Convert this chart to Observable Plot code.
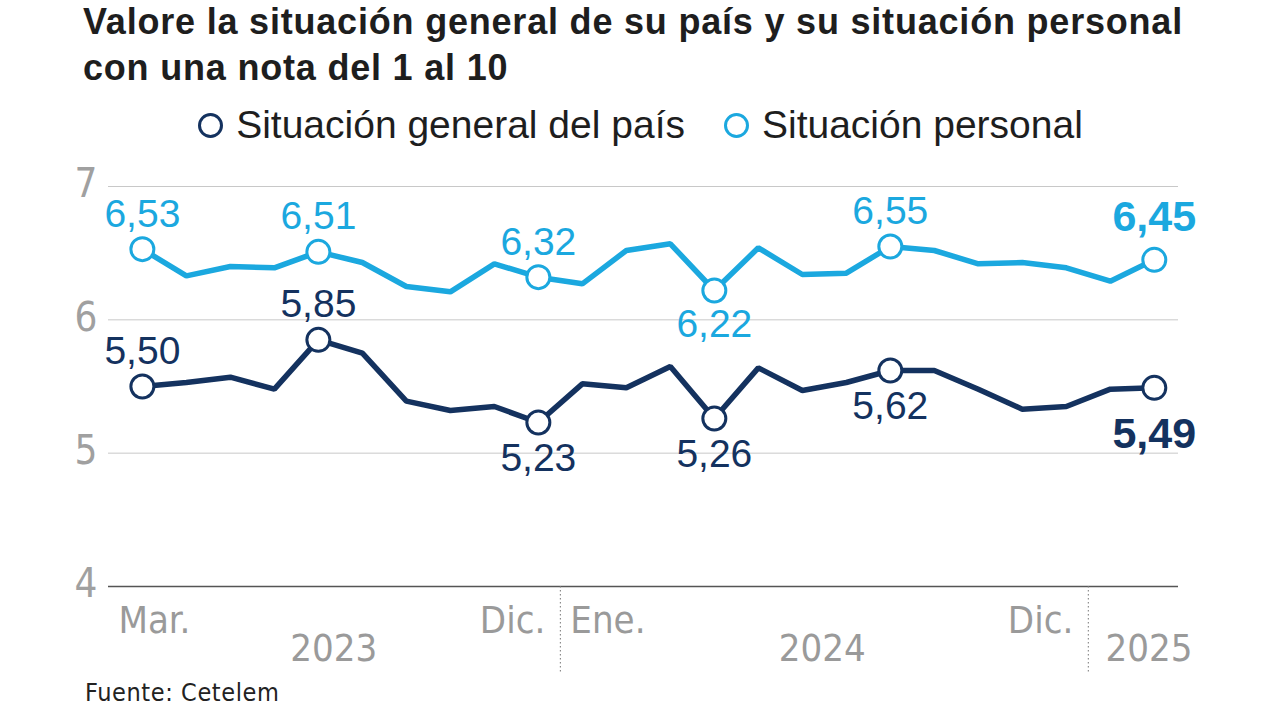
<!DOCTYPE html>
<html>
<head>
<meta charset="utf-8">
<script src="https://cdn.jsdelivr.net/npm/d3@7"></script>
<script src="https://cdn.jsdelivr.net/npm/@observablehq/plot@0.6"></script>
<style>
  html, body { margin: 0; padding: 0; background: #fff; }
  #wrap { position: relative; width: 1280px; height: 720px; overflow: hidden; font-family: "Liberation Sans", Arial, sans-serif; }
  #title { position: absolute; left: 83px; top: -1px; margin: 0; font-size: 36px; line-height: 46px; font-weight: 700; color: #1e1e1e; white-space: nowrap; letter-spacing: 0.8px; }
  #legend { position: absolute; left: 0; width: 1280px; top: 103px; height: 44px; display: flex; justify-content: center; align-items: center; gap: 38px; font-size: 39px; color: #1e1e1e; padding-left: 0px; box-sizing: border-box; }
  .sw { display: inline-flex; align-items: center; gap: 12px; }
  .sw svg { display: block; }
  #chart { position: absolute; left: 0; top: 150px; }
  #caption { position: absolute; left: 85px; top: 678px; font-size: 25px; letter-spacing: 0.6px; color: #222; font-family: 'Liberation Sans Narrow', 'DejaVu Sans Condensed', 'Roboto Condensed', Roboto, sans-serif; }
</style>
</head>
<body>
<div id="wrap">
  <h1 id="title">Valore la situación general de su país y su situación personal<br>con una nota del 1 al 10</h1>
  <div id="legend"></div>
  <div id="chart"></div>
  <div id="caption">Fuente: Cetelem</div>
</div>
<script>
// ---- Data ----
const months = ["2023-03","2023-04","2023-05","2023-06","2023-07","2023-08","2023-09","2023-10","2023-11","2023-12",
                "2024-01","2024-02","2024-03","2024-04","2024-05","2024-06","2024-07","2024-08","2024-09","2024-10","2024-11","2024-12",
                "2025-01","2025-02"];
const seriesNames = ["Situación general del país", "Situación personal"];
const general = [5.50, 5.53, 5.57, 5.48, 5.85, 5.75, 5.39, 5.32, 5.35, 5.23,
                 5.52, 5.49, 5.65, 5.26, 5.64, 5.47, 5.53, 5.62, 5.62, 5.48, 5.33, 5.35,
                 5.48, 5.49];
const personal = [6.53, 6.33, 6.40, 6.39, 6.51, 6.43, 6.25, 6.21, 6.42, 6.32,
                  6.27, 6.52, 6.57, 6.22, 6.54, 6.34, 6.35, 6.55, 6.52, 6.42, 6.43, 6.39,
                  6.29, 6.45];
const labeledGeneral = [0, 4, 9, 13, 17, 23];
const labeledPersonal = [0, 4, 9, 13, 17, 23];
const yTicks = [4, 5, 6, 7];
const monthTicks = [{i: 0, label: "Mar."}, {i: 9, label: "Dic."}, {i: 10, label: "Ene."}, {i: 21, label: "Dic."}];
const yearTicks = [{pos: 4.35, label: "2023"}, {pos: 15.45, label: "2024"}, {pos: 22.88, label: "2025"}];
const yearDividers = [9.5, 21.5];

// ---- Styles ----
const colors = {general: "#14325f", personal: "#1ba8df"};
const fmt = v => v.toFixed(2).replace(".", ",");
const last = months.length - 1;

const rows = months.map((m, i) => ({i, m, general: general[i], personal: personal[i]}));
const genPts = labeledGeneral.map(i => ({i, v: general[i]}));
const perPts = labeledPersonal.map(i => ({i, v: personal[i]}));

// label placement (below the point); others above
const genBelow = new Set([9, 13, 17, 23]);
const perBelow = new Set([13]);

// legend
const legend = document.getElementById("legend");
[["general", seriesNames[0]], ["personal", seriesNames[1]]].forEach(([k, name]) => {
  const s = document.createElement("span");
  s.className = "sw";
  s.innerHTML = `<svg width="27" height="27"><circle cx="13.5" cy="13.5" r="11" fill="white" stroke="${colors[k]}" stroke-width="3"/></svg><span>${name}</span>`;
  legend.appendChild(s);
});

const numFont = "'Liberation Sans', Arial, sans-serif";
const tickFont = "'Liberation Sans Narrow', 'DejaVu Sans Condensed', 'Roboto Condensed', Roboto, sans-serif";
const tickStyle = {fontSize: 38, fill: "#9a9a9a", fontFamily: tickFont, frameAnchor: "bottom", lineAnchor: "middle"};
const lblSize = 39;
const boldSize = 43;

const chart = Plot.plot({
  width: 1280,
  height: 530,
  marginTop: 36,
  marginBottom: 94,
  marginLeft: 108,
  marginRight: 102,
  x: {domain: [-0.77, 23.55], axis: null},
  y: {domain: [4, 7], axis: null},
  style: {fontFamily: numFont, background: "transparent"},
  marks: [
    Plot.ruleY([5, 6, 7], {stroke: "#c8c8c8", strokeWidth: 1}),
    Plot.ruleY([4], {stroke: "#555", strokeWidth: 1.5}),
    Plot.text(yTicks, {y: d => d, frameAnchor: "left", dx: -11, dy: -2, textAnchor: "end", text: d => String(d), fontSize: 40, fill: "#a0a0a0", fontFamily: tickFont}),
    // year dividers
    Plot.axisX(yearDividers, {tickSize: 86, tickFormat: () => "", stroke: "#777", strokeDasharray: "1.5,2.5", strokeWidth: 1}),
    // month tick labels
    Plot.text(monthTicks, {...tickStyle, filter: d => d.i === 0, x: "i", text: "label", textAnchor: "start", dx: -24, dy: 34}),
    Plot.text(monthTicks, {...tickStyle, filter: d => d.i !== 0 && monthTicks.some(t => t.i === d.i - 1), x: "i", text: "label", textAnchor: "start", dx: -12, dy: 34}),
    Plot.text(monthTicks, {...tickStyle, filter: d => d.i !== 0 && !monthTicks.some(t => t.i === d.i - 1), x: "i", text: "label", textAnchor: "end", dx: 7, dy: 34}),
    // year labels
    Plot.text(yearTicks, {...tickStyle, x: "pos", text: "label", dy: 62}),
    // lines
    Plot.line(rows, {x: "i", y: "personal", stroke: colors.personal, strokeWidth: 5.5, strokeLinejoin: "miter"}),
    Plot.line(rows, {x: "i", y: "general", stroke: colors.general, strokeWidth: 5.5, strokeLinejoin: "miter"}),
    Plot.dot(perPts, {x: "i", y: "v", r: 11.5, fill: "white", stroke: colors.personal, strokeWidth: 3}),
    Plot.dot(genPts, {x: "i", y: "v", r: 11.5, fill: "white", stroke: colors.general, strokeWidth: 3}),
    // value labels — personal
    Plot.text(perPts, {filter: d => d.i !== last && !perBelow.has(d.i), x: "i", y: "v", text: d => fmt(d.v), dy: -35, fontSize: lblSize, fill: colors.personal}),
    Plot.text(perPts, {filter: d => d.i !== last && perBelow.has(d.i), x: "i", y: "v", text: d => fmt(d.v), dy: 34, fontSize: lblSize, fill: colors.personal}),
    Plot.text(perPts, {filter: d => d.i === last, x: "i", y: "v", text: d => fmt(d.v), dy: -43, dx: 0, fontSize: boldSize, fontWeight: 700, fill: colors.personal}),
    // value labels — general
    Plot.text(genPts, {filter: d => d.i !== last && !genBelow.has(d.i), x: "i", y: "v", text: d => fmt(d.v), dy: -35, fontSize: lblSize, fill: colors.general}),
    Plot.text(genPts, {filter: d => d.i !== last && genBelow.has(d.i), x: "i", y: "v", text: d => fmt(d.v), dy: 36, fontSize: lblSize, fill: colors.general}),
    Plot.text(genPts, {filter: d => d.i === last, x: "i", y: "v", text: d => fmt(d.v), dy: 46, dx: 0, fontSize: boldSize, fontWeight: 700, fill: colors.general})
  ]
});
document.getElementById("chart").appendChild(chart);
</script>
</body>
</html>
